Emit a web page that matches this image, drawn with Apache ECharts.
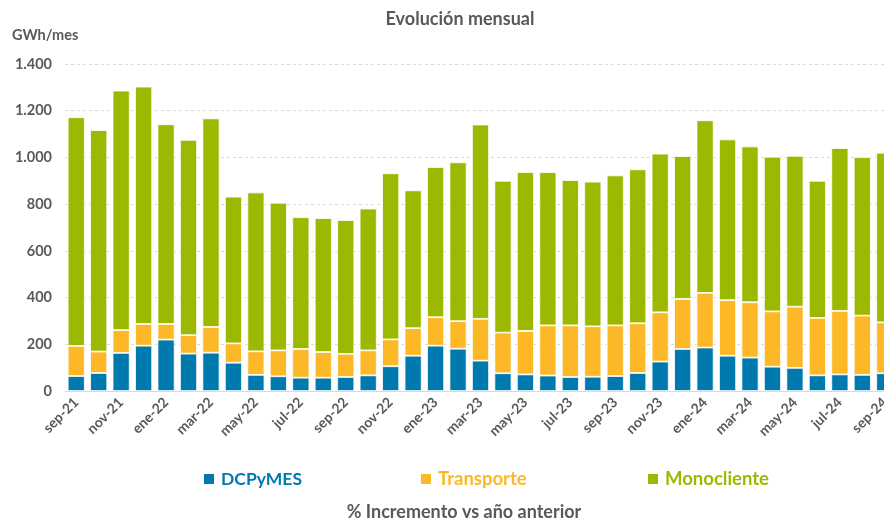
<!DOCTYPE html>
<html>
<head>
<meta charset="utf-8">
<style>
html, body {margin: 0; padding: 0; background: #fff; overflow: hidden;}
#chart {width: 896px; height: 518px;}
</style>
</head>
<body>
<div id="chart"></div>
<script src="https://cdn.jsdelivr.net/npm/echarts@6/dist/echarts.min.js"></script>
<script>
var months = ["sep-21","oct-21","nov-21","dic-21","ene-22","feb-22","mar-22","abr-22","may-22","jun-22","jul-22","ago-22",
  "sep-22","oct-22","nov-22","dic-22","ene-23","feb-23","mar-23","abr-23","may-23","jun-23","jul-23","ago-23",
  "sep-23","oct-23","nov-23","dic-23","ene-24","feb-24","mar-24","abr-24","may-24","jun-24","jul-24","ago-24","sep-24"];

// GWh/mes
var dcpymes = [64, 77, 163, 194, 220, 160, 164, 121, 69, 63, 57, 57,
  60, 67, 106, 151, 194, 181, 130, 76, 71, 66, 60, 61,
  64, 77, 126, 180, 186, 151, 143, 104, 99, 67, 71, 69, 76];
var transporte = [129, 92, 98, 93, 67, 79, 110, 83, 101, 111, 123, 110,
  99, 107, 115, 118, 122, 118, 179, 174, 186, 215, 221, 216,
  217, 213, 211, 214, 234, 238, 237, 237, 262, 246, 272, 254, 218];
var monocliente = [979, 948, 1025, 1016, 855, 836, 893, 628, 680, 632, 564, 573,
  573, 607, 711, 590, 643, 680, 832, 650, 680, 656, 622, 619,
  642, 659, 679, 612, 739, 688, 667, 662, 646, 587, 697, 678, 726];
var yTicks = [0, 200, 400, 600, 800, 1000, 1200, 1400];

var gris = '#595959';
var colores = {DCPyMES: '#0079ae', Transporte: '#fdb827', Monocliente: '#9cb800'};
var fuente = 'Lato';

function serie(nombre, datos) {
  return {
    name: nombre,
    type: 'bar',
    stack: 'total',
    data: datos,
    barCategoryGap: '24%',
    itemStyle: {color: colores[nombre], borderColor: '#ffffff', borderWidth: 0.8},
    emphasis: {disabled: true}
  };
}

// una leyenda por serie, para colocar cada una donde esta en el original
function leyenda(nombre, x, tam) {
  return {
    left: x, top: 468, padding: 0,
    itemWidth: 12, itemHeight: 12, itemGap: 0,
    icon: 'rect',
    data: [{name: nombre, textStyle: {color: colores[nombre]}}],
    textStyle: {fontFamily: fuente, fontSize: tam, lineHeight: 22, fontWeight: 'bold', padding: [0, 0, 0, 1]}
  };
}

var chart = echarts.init(document.getElementById('chart'));
chart.setOption({
  animation: false,
  textStyle: {fontFamily: fuente},
  title: [{
    text: 'Evolución mensual',
    left: 455, top: 5, textAlign: 'center',
    textStyle: {fontFamily: fuente, fontSize: 18, fontWeight: 'bold', color: gris}
  }, {
    text: '% Incremento vs año anterior',
    left: 459, top: 498, textAlign: 'center',
    textStyle: {fontFamily: fuente, fontSize: 18, fontWeight: 'bold', color: gris}
  }],
  legend: [leyenda('DCPyMES', 202, 17.5), leyenda('Transporte', 419, 18.5), leyenda('Monocliente', 646, 18.5)],
  grid: {left: 65, right: 0, top: 64, bottom: 127, containLabel: false},
  xAxis: {
    type: 'category',
    data: months,
    axisLine: {lineStyle: {color: '#d9d9d9', width: 1}},
    axisTick: {show: false},
    axisLabel: {
      interval: 1, rotate: 45, color: gris, fontSize: 14, fontWeight: 'bold',
      fontFamily: fuente, margin: 9
    }
  },
  yAxis: {
    type: 'value',
    min: yTicks[0], max: yTicks[yTicks.length - 1], interval: 200,
    name: 'GWh/mes',
    nameLocation: 'end',
    nameGap: 0,
    nameTextStyle: {color: gris, fontSize: 14.5, fontWeight: 'bold', fontFamily: fuente,
      align: 'left', padding: [0, 0, 21, -53]},
    axisLine: {show: false},
    axisTick: {show: false},
    axisLabel: {
      color: gris, fontSize: 14.5, fontWeight: 'bold', fontFamily: fuente, margin: 13,
      formatter: function (v) { return v.toString().replace(/\B(?=(\d{3})+(?!\d))/g, '.'); }
    },
    splitLine: {lineStyle: {color: '#d9d9d9', type: [3, 3], width: 1}}
  },
  series: [
    serie('DCPyMES', dcpymes),
    serie('Transporte', transporte),
    serie('Monocliente', monocliente)
  ]
});
</script>
</body>
</html>
